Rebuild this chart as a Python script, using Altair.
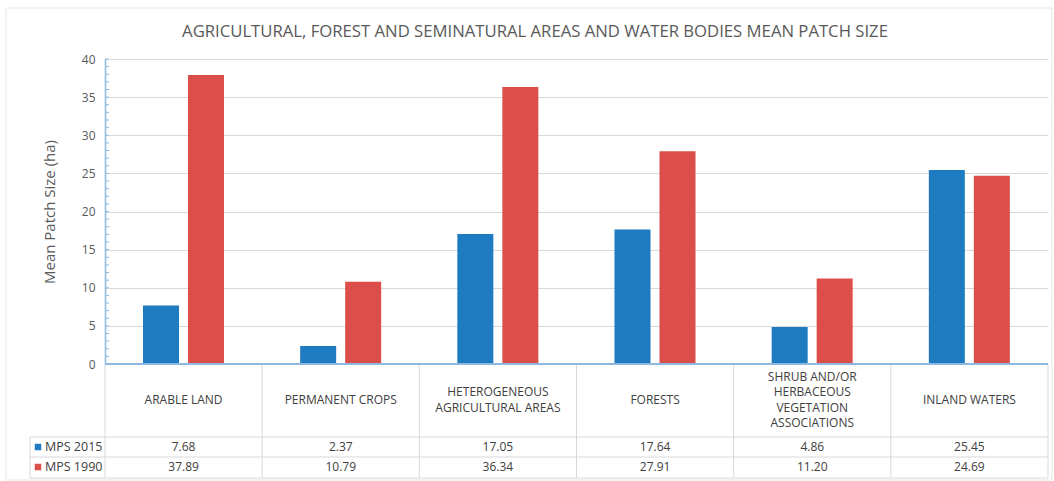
import altair as alt
import pandas as pd

# ---- data -------------------------------------------------------------
categories = [
    "ARABLE LAND",
    "PERMANENT CROPS",
    "HETEROGENEOUS AGRICULTURAL AREAS",
    "FORESTS",
    "SHRUB AND/OR HERBACEOUS VEGETATION ASSOCIATIONS",
    "INLAND WATERS",
]
header_labels = [
    "ARABLE LAND",
    "PERMANENT CROPS",
    "HETEROGENEOUS\nAGRICULTURAL AREAS",
    "FORESTS",
    "SHRUB AND/OR\nHERBACEOUS\nVEGETATION\nASSOCIATIONS",
    "INLAND WATERS",
]
series_names = ["MPS 2015", "MPS 1990"]
mps_2015 = [7.68, 2.37, 17.05, 17.64, 4.86, 25.45]
mps_1990 = [37.89, 10.79, 36.34, 27.91, 11.20, 24.69]
series_colors = ["#1f7bbf", "#dc4e4a"]
y_major_ticks = [0, 5, 10, 15, 20, 25, 30, 35, 40]
y_minor_ticks = list(range(0, 41))

title_text = "AGRICULTURAL, FOREST AND SEMINATURAL AREAS AND WATER BODIES MEAN PATCH SIZE"

# ---- tables -----------------------------------------------------------
rows = []
for cat, v15, v90 in zip(categories, mps_2015, mps_1990):
    rows.append({"cat": cat, "series": "MPS 2015", "value": v15})
    rows.append({"cat": cat, "series": "MPS 1990", "value": v90})
long_df = pd.DataFrame(rows)
header_df = pd.DataFrame({"cat": categories, "label": header_labels})
header_df["nlines"] = header_df["label"].str.count("\n") + 1

W, H = 943, 305
FONT = "Open Sans"
GRID = "#d9d9d9"
AXIS_BLUE = "#8db9e0"
TEXT = "#404040"
LINE_H = 15.5

x_scale = alt.Scale(domain=categories, paddingInner=0, paddingOuter=0)
y_scale = alt.Scale(domain=[0, 40], nice=False)
color_scale = alt.Scale(domain=series_names, range=series_colors)

y_axis = alt.Axis(
    values=y_major_ticks,
    grid=True,
    gridColor=GRID,
    gridWidth=1,
    domain=True,
    domainColor=AXIS_BLUE,
    domainWidth=1.5,
    ticks=False,
    labelColor="#595959",
    labelFontSize=12,
    labelFont=FONT,
    labelPadding=10,
    title="Mean Patch Size (ha)",
    titleFont=FONT,
    titleFontSize=15,
    titleFontWeight="normal",
    titleColor="#595959",
    titlePadding=24,
)

bars = alt.Chart(long_df).mark_bar().encode(
    x=alt.X("cat:N", sort=categories, scale=x_scale, axis=None),
    xOffset=alt.XOffset(
        "series:N",
        sort=series_names,
        scale=alt.Scale(range=[38, 119], paddingInner=0.2, paddingOuter=0),
    ),
    y=alt.Y("value:Q", scale=y_scale, axis=y_axis),
    color=alt.Color("series:N", scale=color_scale, legend=None),
)

# minor ticks on the value axis, pointing into the plot
ticks = alt.Chart(pd.DataFrame({"v": y_minor_ticks})).mark_rule(
    color=AXIS_BLUE, strokeWidth=1
).encode(
    y=alt.Y("v:Q", scale=y_scale, axis=y_axis),
    x=alt.value(0),
    x2=alt.value(4),
)

one = pd.DataFrame({"k": [0]})


def hrule(y, x0, x1, color, width=1):
    return alt.Chart(one).mark_rule(color=color, strokeWidth=width).encode(
        x=alt.value(x0), x2=alt.value(x1), y=alt.value(y)
    )


def vrule(x, y0, y1, color, width=1):
    return alt.Chart(one).mark_rule(color=color, strokeWidth=width).encode(
        x=alt.value(x), y=alt.value(y0), y2=alt.value(y1)
    )


# category axis baseline
baseline = hrule(H, 0, W, AXIS_BLUE, 2)

# ---- data table below the plot ---------------------------------------
ROW1, ROW2, ROW3 = 378, 398, 419
LEFT = -75
HEADER_MID = 341

table_lines = [
    hrule(ROW1, LEFT, W, GRID),
    hrule(ROW2, LEFT, W, GRID),
    hrule(ROW3, LEFT, W, GRID),
    vrule(W, H + 1, ROW3, GRID),
    vrule(LEFT, ROW1, ROW3, GRID),
]

vlines = alt.Chart(header_df).mark_rule(color=GRID, strokeWidth=1).encode(
    x=alt.X("cat:N", sort=categories, scale=x_scale, bandPosition=0),
    y=alt.value(H + 1),
    y2=alt.value(ROW3),
)

# header labels, one layer per line count so each block is centred in its cell
header_layers = []
for n in sorted(header_df["nlines"].unique()):
    header_layers.append(
        alt.Chart(header_df[header_df["nlines"] == n]).mark_text(
            font=FONT, fontSize=12, color=TEXT, lineBreak="\n", lineHeight=LINE_H,
            baseline="middle", align="center",
        ).encode(
            x=alt.X("cat:N", sort=categories, scale=x_scale, bandPosition=0.5),
            y=alt.value(HEADER_MID - (n - 1) * LINE_H / 2),
            text="label:N",
        )
    )

value_layers = []
legend_layers = []
for name, ypos in zip(series_names, [388, 408]):
    sub = long_df[long_df.series == name]
    value_layers.append(
        alt.Chart(sub).mark_text(
            font=FONT, fontSize=12, color=TEXT, baseline="middle", align="center"
        ).encode(
            x=alt.X("cat:N", sort=categories, scale=x_scale, bandPosition=0.5),
            y=alt.value(ypos),
            text=alt.Text("value:Q", format=".2f"),
        )
    )
    leg = pd.DataFrame({"series": [name]})
    legend_layers.append(
        alt.Chart(leg).mark_square(size=42, opacity=1).encode(
            x=alt.value(-67),
            y=alt.value(ypos),
            color=alt.Color("series:N", scale=color_scale, legend=None),
        )
    )
    legend_layers.append(
        alt.Chart(leg).mark_text(
            font=FONT, fontSize=12.5, color=TEXT, align="left", baseline="middle"
        ).encode(x=alt.value(-60), y=alt.value(ypos), text="series:N")
    )

title = alt.Chart(pd.DataFrame({"t": [title_text]})).mark_text(
    font=FONT, fontSize=16.7, color="#595959", align="center", baseline="middle"
).encode(x=alt.value(430), y=alt.value(-27), text="t:N")

frame = alt.Chart(one).mark_rect(fill=None, stroke="#e6e6e6", strokeWidth=1).encode(
    x=alt.value(-99), x2=alt.value(947), y=alt.value(-51), y2=alt.value(421)
)

chart = (
    alt.layer(
        frame, bars, ticks, baseline, *table_lines, vlines,
        *header_layers, *value_layers, *legend_layers, title,
    )
    .properties(
        width=W,
        height=H,
        padding={"left": 105, "top": 59, "right": 6, "bottom": 117},
        autosize=alt.AutoSizeParams(type="none"),
        background="white",
    )
    .configure_view(stroke=None)
)

chart.save("out.html", embed_options={"renderer": "svg", "actions": False})
